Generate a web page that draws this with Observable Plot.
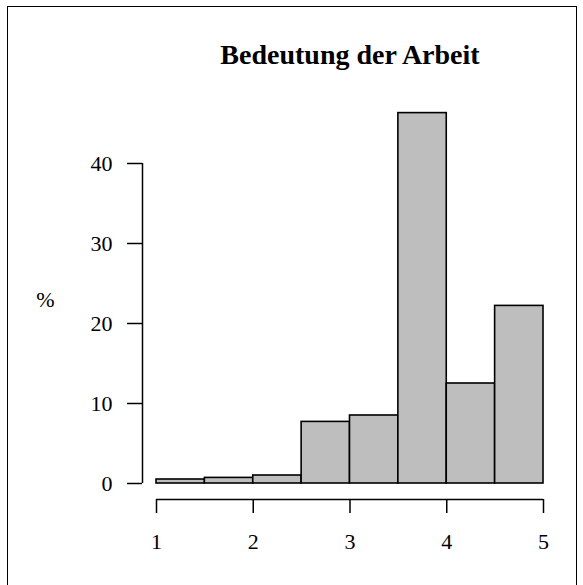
<!DOCTYPE html>
<html>
<head>
<meta charset="utf-8">
<script src="https://cdn.jsdelivr.net/npm/d3@7"></script>
<script src="https://cdn.jsdelivr.net/npm/@observablehq/plot@0.6"></script>
<style>
  html, body { margin: 0; padding: 0; background: #fff; }
  #frame { position: absolute; left: 7px; top: 6px; width: 568px; height: 620px; border: 1.5px solid #000; }
  #chart { position: absolute; left: 0; top: 0; }
</style>
</head>
<body>
<div id="frame"></div>
<div id="chart"></div>
<script>
const title = "Bedeutung der Arbeit";
const yLabel = "%";
const binLo = [1.0, 1.5, 2.0, 2.5, 3.0, 3.5, 4.0, 4.5];
const binHi = [1.5, 2.0, 2.5, 3.0, 3.5, 4.0, 4.5, 5.0];
const percent = [0.5, 0.7, 1.0, 7.7, 8.5, 46.3, 12.5, 22.2];
const xTicks = [1, 2, 3, 4, 5];
const yTicks = [0, 10, 20, 30, 40];

const bins = binLo.map((lo, i) => ({lo, hi: binHi[i], pct: percent[i]}));

const plot = Plot.plot({
  width: 583,
  height: 585,
  marginLeft: 156,
  marginRight: 40,
  marginTop: 163,
  marginBottom: 102,
  style: {fontFamily: "'Liberation Serif', 'DejaVu Serif', serif", fontSize: "22px", color: "#000", background: "transparent", overflow: "visible"},
  x: {domain: [1, 5]},
  y: {domain: [0, 40]},
  marks: [
    Plot.rectY(bins, {x1: "lo", x2: "hi", y1: 0, y2: "pct", fill: "#bebebe", stroke: "#000", strokeWidth: 1.6}),
    Plot.ruleX([{x: xTicks[0], y1: yTicks[0], y2: yTicks[yTicks.length - 1]}], {x: "x", y1: "y1", y2: "y2", dx: -14, stroke: "#000", strokeWidth: 1.5}),
    Plot.axisY({ticks: yTicks, tickFormat: d3.format("d"), tickSize: 15, tickPadding: 15, dx: -14, strokeWidth: 1.5, label: null, fontSize: 22}),
    Plot.ruleY([{y: 0, x1: xTicks[0], x2: xTicks[xTicks.length - 1]}], {y: "y", x1: "x1", x2: "x2", dy: 16, stroke: "#000", strokeWidth: 1.5}),
    Plot.axisX({ticks: xTicks, tickFormat: d3.format("d"), tickSize: 14, tickPadding: 20, dy: 16, strokeWidth: 1.5, label: null, fontSize: 22}),
    Plot.text([title], {frameAnchor: "top", dy: -100, lineAnchor: "bottom", fontWeight: "bold", fontSize: 28}),
    Plot.text([yLabel], {frameAnchor: "left", dx: -111, dy: -24, textAnchor: "middle", fontSize: 22})
  ]
});
document.getElementById("chart").appendChild(plot);
</script>
</body>
</html>
